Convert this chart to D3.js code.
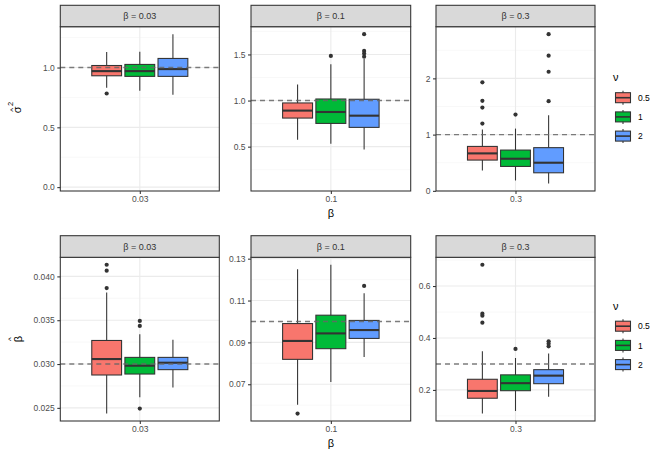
<!DOCTYPE html>
<html>
<head>
<meta charset="utf-8">
<script src="https://cdn.jsdelivr.net/npm/d3@7"></script>
<style>
  body { margin: 0; background: #fff; }
  svg { font-family: "Liberation Sans", Arial, sans-serif; }
</style>
</head>
<body>
<svg id="chart" width="664" height="460"></svg>
<script>
// facets and groups
const betas = [0.03, 0.1, 0.3];
const betaLabels = ["0.03", "0.1", "0.3"];
const nus = ["0.5", "1", "2"];
const nuColors = ["#F8766D", "#00BA38", "#619CFF"];

// sigma^2 estimates: [lower whisker, q1, median, q3, upper whisker] per nu
const sigmaStats003 = [[0.83, 0.931, 0.970, 1.017, 1.129], [0.805, 0.926, 0.970, 1.026, 1.131], [0.772, 0.926, 0.987, 1.076, 1.279]];
const sigmaStats01 = [[0.574, 0.810, 0.891, 0.974, 1.175], [0.531, 0.752, 0.876, 1.017, 1.393], [0.468, 0.709, 0.836, 1.014, 1.45]];
const sigmaStats03 = [[0.363, 0.547, 0.666, 0.790, 1.089], [0.184, 0.434, 0.571, 0.725, 1.107], [0.130, 0.321, 0.500, 0.768, 1.345]];
const sigmaOut003 = [[0.783], [], []];
const sigmaOut01 = [[], [1.484], [1.72, 1.538, 1.51, 1.476]];
const sigmaOut03 = [[1.929, 1.60, 1.48, 1.196], [1.357], [2.786, 2.404, 2.118, 1.595]];

// beta estimates
const betaStats003 = [[0.02435, 0.02875, 0.03057, 0.03269, 0.03815], [0.02622, 0.02886, 0.02981, 0.03076, 0.0334], [0.02731, 0.02936, 0.03015, 0.03076, 0.03276]];
const betaStats01 = [[0.0602, 0.0819, 0.0907, 0.0990, 0.125], [0.0711, 0.087, 0.0943, 0.103, 0.1271], [0.0830, 0.0919, 0.0959, 0.1005, 0.1135]];
const betaStats03 = [[0.109, 0.168, 0.196, 0.241, 0.349], [0.119, 0.197, 0.226, 0.258, 0.323], [0.174, 0.224, 0.255, 0.278, 0.34]];
const betaOut003 = [[0.04133, 0.04065, 0.03867], [0.03492, 0.03435, 0.02492], []];
const betaOut01 = [[0.056], [], [0.117]];
const betaOut03 = [[0.682, 0.4935, 0.486, 0.459], [0.358], [0.387, 0.378, 0.368]];

// tick labels
const sigmaTicks = [["0.0", "0.5", "1.0"], ["0.5", "1.0", "1.5"], ["0", "1", "2"]];
const betaTicks = [["0.025", "0.030", "0.035", "0.040"], ["0.07", "0.09", "0.11", "0.13"], ["0.2", "0.4", "0.6"]];

const svg = d3.select("#chart");

const panelX = [[60.3, 219.3], [251, 410.7], [436, 595]];
const rows = [
  { top: 26.7, bottom: 191, stripTop: 5.3, stats: [sigmaStats003, sigmaStats01, sigmaStats03],
    outs: [sigmaOut003, sigmaOut01, sigmaOut03], ticks: sigmaTicks, ref: i => 1, extra: i => betas[i],
    title: "sigma", legendY: 77 },
  { top: 257.3, bottom: 421, stripTop: 235.7, stats: [betaStats003, betaStats01, betaStats03],
    outs: [betaOut003, betaOut01, betaOut03], ticks: betaTicks, ref: i => betas[i], extra: i => betas[i],
    title: "beta", legendY: 305.5 }
];

rows.forEach(function(row) {
  betas.forEach(function(b, i) {
    let stats = row.stats[i];
    let outs = row.outs[i];
    let vals = d3.merge(stats).concat(d3.merge(outs), [row.extra(i), row.ref(i)]);
    let [lo, hi] = d3.extent(vals);
    let pad = (hi - lo) * 0.05;

    let y = d3.scaleLinear().domain([lo - pad, hi + pad]).range([row.bottom, row.top]);
    let x = d3.scaleLinear().domain([0.4, 1.6]).range(panelX[i]);

    let x0 = panelX[i][0], x1 = panelX[i][1];
    let g = svg.append("g");

    g.append("rect")
      .attr("x", x0).attr("y", row.top)
      .attr("width", x1 - x0).attr("height", row.bottom - row.top)
      .attr("fill", "#fff");

    // grid
    let major = row.ticks[i].map(Number);
    let step = major[1] - major[0];
    let minor = d3.range(-1, major.length).map(k => major[0] + step * (k + 0.5))
      .filter(v => v > y.domain()[0] && v < y.domain()[1]);

    g.selectAll(".minor").data(minor).enter().append("line")
      .attr("x1", x0).attr("x2", x1)
      .attr("y1", d => y(d)).attr("y2", d => y(d))
      .attr("stroke", "#F2F2F2").attr("stroke-width", 0.55);
    g.selectAll(".major").data(major).enter().append("line")
      .attr("x1", x0).attr("x2", x1)
      .attr("y1", d => y(d)).attr("y2", d => y(d))
      .attr("stroke", "#EBEBEB").attr("stroke-width", 1.1);
    g.append("line")
      .attr("x1", x(1)).attr("x2", x(1))
      .attr("y1", row.top).attr("y2", row.bottom)
      .attr("stroke", "#EBEBEB").attr("stroke-width", 1.1);

    // boxes
    let slot = 0.25, boxW = slot * 0.9;
    stats.forEach(function(s, k) {
      let cx = 1 + (k - 1) * slot;
      let bg = g.append("g");
      bg.append("line")
        .attr("x1", x(cx)).attr("x2", x(cx))
        .attr("y1", y(s[0])).attr("y2", y(s[4]))
        .attr("stroke", "#333").attr("stroke-width", 1.07);
      bg.append("rect")
        .attr("x", x(cx - boxW / 2)).attr("y", y(s[3]))
        .attr("width", x(cx + boxW / 2) - x(cx - boxW / 2))
        .attr("height", y(s[1]) - y(s[3]))
        .attr("fill", nuColors[k]).attr("stroke", "#333").attr("stroke-width", 1.07);
      bg.append("line")
        .attr("x1", x(cx - boxW / 2)).attr("x2", x(cx + boxW / 2))
        .attr("y1", y(s[2])).attr("y2", y(s[2]))
        .attr("stroke", "#333").attr("stroke-width", 2.1);
      bg.selectAll("circle").data(outs[k]).enter().append("circle")
        .attr("cx", x(cx)).attr("cy", d => y(d)).attr("r", 2.1)
        .attr("fill", "#333");
    });

    // reference line
    g.append("line")
      .attr("x1", x0).attr("x2", x1)
      .attr("y1", y(row.ref(i))).attr("y2", y(row.ref(i)))
      .attr("stroke", "#666").attr("stroke-opacity", 0.85)
      .attr("stroke-width", 1.4).attr("stroke-dasharray", "5,4");

    // border
    g.append("rect")
      .attr("x", x0).attr("y", row.top)
      .attr("width", x1 - x0).attr("height", row.bottom - row.top)
      .attr("fill", "none").attr("stroke", "#333").attr("stroke-width", 1.07);

    // strip
    g.append("rect")
      .attr("x", x0).attr("y", row.stripTop)
      .attr("width", x1 - x0).attr("height", row.top - row.stripTop)
      .attr("fill", "#D9D9D9").attr("stroke", "#333").attr("stroke-width", 1.07);
    g.append("text")
      .attr("x", (x0 + x1) / 2).attr("y", (row.top + row.stripTop) / 2 + 3.2)
      .attr("text-anchor", "middle").attr("font-size", 9).attr("fill", "#333")
      .text("β = " + betaLabels[i]);

    // y axis
    let yAxis = d3.axisLeft(y).tickValues(major).tickSize(3).tickPadding(2.5)
      .tickFormat((d, j) => row.ticks[i][j]);
    g.append("g").attr("transform", `translate(${x0},0)`).call(yAxis)
      .call(a => a.select(".domain").remove())
      .call(a => a.selectAll("line").attr("stroke", "#333").attr("stroke-width", 1.07))
      .call(a => a.selectAll("text").attr("fill", "#4D4D4D").attr("font-size", 8.5)
        .attr("font-family", "Liberation Sans, Arial, sans-serif"));

    // x axis
    let xAxis = d3.axisBottom(x).tickValues([1]).tickSize(3).tickPadding(2)
      .tickFormat(() => betaLabels[i]);
    g.append("g").attr("transform", `translate(0,${row.bottom})`).call(xAxis)
      .call(a => a.select(".domain").remove())
      .call(a => a.selectAll("line").attr("stroke", "#333").attr("stroke-width", 1.07))
      .call(a => a.selectAll("text").attr("fill", "#4D4D4D").attr("font-size", 8.5)
        .attr("font-family", "Liberation Sans, Arial, sans-serif"));
  });

  // x title
  svg.append("text")
    .attr("x", (panelX[1][0] + panelX[1][1]) / 2).attr("y", row.bottom + 26)
    .attr("text-anchor", "middle").attr("font-size", 11).attr("fill", "#000")
    .text("β");

  // y title, rotated
  let cy = (row.top + row.bottom) / 2;
  let yt = svg.append("g").attr("transform", `translate(21,${cy}) rotate(-90)`);
  if (row.title === "sigma") {
    yt.append("text").attr("x", -1).attr("y", 0).attr("text-anchor", "middle")
      .attr("font-size", 11).text("σ");
    yt.append("text").attr("x", -1).attr("y", -6.5).attr("text-anchor", "middle")
      .attr("font-size", 8).text("^");
    yt.append("text").attr("x", 5).attr("y", -8.5).attr("text-anchor", "middle")
      .attr("font-size", 7.5).text("2");
  } else {
    yt.append("text").attr("x", 0).attr("y", 1).attr("text-anchor", "middle")
      .attr("font-size", 11).text("β");
    yt.append("text").attr("x", 0).attr("y", -8).attr("text-anchor", "middle")
      .attr("font-size", 8).text("^");
  }

  // legend
  let lg = svg.append("g").attr("transform", `translate(613,${row.legendY})`);
  lg.append("text").attr("x", 0).attr("y", 4).attr("font-size", 11).text("ν");
  nus.forEach(function(n, k) {
    let ky = 20.7 + k * 19.2;
    lg.append("line").attr("x1", 10).attr("x2", 10).attr("y1", ky - 7).attr("y2", ky + 7)
      .attr("stroke", "#333").attr("stroke-width", 1.07);
    lg.append("rect").attr("x", 2.5).attr("y", ky - 5).attr("width", 15).attr("height", 10)
      .attr("fill", nuColors[k]).attr("stroke", "#333").attr("stroke-width", 1.07);
    lg.append("line").attr("x1", 2.5).attr("x2", 17.5).attr("y1", ky).attr("y2", ky)
      .attr("stroke", "#333").attr("stroke-width", 1.6);
    lg.append("text").attr("x", 25).attr("y", ky + 3.2).attr("font-size", 8.5)
      .attr("fill", "#000").text(n);
  });
});
</script>
</body>
</html>
